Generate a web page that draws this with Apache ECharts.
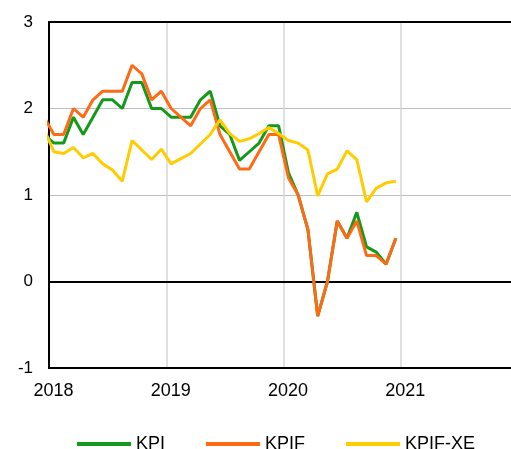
<!DOCTYPE html>
<html>
<head>
<meta charset="utf-8">
<script src="https://cdn.jsdelivr.net/npm/echarts@6/dist/echarts.min.js"></script>
<style>
  html, body { margin: 0; padding: 0; background: #fff; overflow: hidden; }
  /* chart is a bit wider than the window: plot runs on past the right edge */
  #chart { width: 521px; height: 449px; }
</style>
</head>
<body>
<div id="chart"></div>
<script>
// months, Dec 2017 .. Dec 2020 (first point sits left of the axis and is clipped)
var months = [
  '2017-12',
  '2018-01','2018-02','2018-03','2018-04','2018-05','2018-06','2018-07','2018-08','2018-09','2018-10','2018-11','2018-12',
  '2019-01','2019-02','2019-03','2019-04','2019-05','2019-06','2019-07','2019-08','2019-09','2019-10','2019-11','2019-12',
  '2020-01','2020-02','2020-03','2020-04','2020-05','2020-06','2020-07','2020-08','2020-09','2020-10','2020-11','2020-12'
];
var kpi = [
  1.7,
  1.6, 1.6, 1.9, 1.7, 1.9, 2.1, 2.1, 2.0, 2.3, 2.3, 2.0, 2.0,
  1.9, 1.9, 1.9, 2.1, 2.2, 1.8, 1.7, 1.4, 1.5, 1.6, 1.8, 1.8,
  1.26, 1.0, 0.6, -0.4, 0.0, 0.7, 0.5, 0.8, 0.4, 0.34, 0.2, 0.5
];
var kpif = [
  1.9,
  1.7, 1.7, 2.0, 1.9, 2.1, 2.2, 2.2, 2.2, 2.5, 2.4, 2.1, 2.2,
  2.0, 1.9, 1.8, 2.0, 2.1, 1.7, 1.5, 1.3, 1.3, 1.5, 1.7, 1.7,
  1.2, 1.0, 0.6, -0.4, 0.0, 0.7, 0.5, 0.7, 0.3, 0.3, 0.2, 0.5
];
var kpifxe = [
  1.76,
  1.5, 1.48, 1.55, 1.43, 1.48, 1.36, 1.29, 1.16, 1.63, 1.52, 1.41, 1.53,
  1.36, 1.42, 1.48, 1.59, 1.7, 1.87, 1.71, 1.62, 1.65, 1.71, 1.78, 1.71,
  1.63, 1.6, 1.52, 0.99, 1.245, 1.3, 1.51, 1.41, 0.92, 1.08, 1.14, 1.16
];
var seriesNames = ['KPI', 'KPIF', 'KPIF-XE'];
var seriesColors = ['#14991a', '#ff6a14', '#ffcc00'];
var yearLabels = ['2018', '2019', '2020', '2021'];

// month string -> months since Jan 2018, plotted mid-month
function monthPos(m) {
  var p = m.split('-');
  return (parseInt(p[0]) - 2018) * 12 + parseInt(p[1]) - 1 + 0.5;
}
function pairs(vals) {
  return months.map(function (m, i) { return [monthPos(m), vals[i]]; });
}

var chart = echarts.init(document.getElementById('chart'));
var font = 'Liberation Sans, Arial, sans-serif';

chart.setOption({
  animation: false,
  grid: { left: 49, top: 22, right: 0, bottom: 81 },
  legend: {
    data: seriesNames.map(function (n) { return { name: n, icon: 'rect' }; }),
    left: 72,
    top: 430,
    itemWidth: 54,
    itemHeight: 4,
    itemGap: 41,
    textStyle: { fontSize: 18, color: '#000', fontFamily: font }
  },
  xAxis: [
    {
      type: 'value',
      position: 'bottom',
      min: 0,
      max: 48,
      interval: 12,
      axisLine: { onZero: false, lineStyle: { color: '#000', width: 2 } },
      axisTick: { show: false },
      axisLabel: {
        fontSize: 18,
        color: '#000',
        fontFamily: font,
        margin: 14,
        padding: [0, 0, 0, 9],
        formatter: function (v) {
          var k = Math.round(v / 12);
          return k < yearLabels.length ? yearLabels[k] : '';
        }
      },
      splitLine: { show: true, lineStyle: { color: '#d6d6d6', width: 1.5 } }
    },
    {
      type: 'value',
      position: 'top',
      min: 0,
      max: 48,
      axisLine: { onZero: false, lineStyle: { color: '#000', width: 2 } },
      axisTick: { show: false },
      axisLabel: { show: false },
      splitLine: { show: false }
    },
    {
      // zero line
      type: 'value',
      position: 'bottom',
      min: 0,
      max: 48,
      axisLine: { onZero: true, lineStyle: { color: '#000', width: 2 } },
      axisTick: { show: false },
      axisLabel: { show: false },
      splitLine: { show: false }
    }
  ],
  yAxis: {
    type: 'value',
    min: -1,
    max: 3,
    interval: 1,
    axisLine: { show: true, lineStyle: { color: '#000', width: 2 } },
    axisTick: { show: false },
    axisLabel: { fontSize: 17, color: '#000', fontFamily: font, margin: 16 },
    splitLine: { show: true, lineStyle: { color: '#c0c0c0', width: 1 } }
  },
  series: [kpi, kpif, kpifxe].map(function (vals, i) {
    return {
      name: seriesNames[i],
      type: 'line',
      xAxisIndex: 0,
      data: pairs(vals),
      symbol: 'none',
      color: seriesColors[i],
      lineStyle: { width: 3, color: seriesColors[i] },
      clip: true
    };
  })
});
</script>
</body>
</html>
